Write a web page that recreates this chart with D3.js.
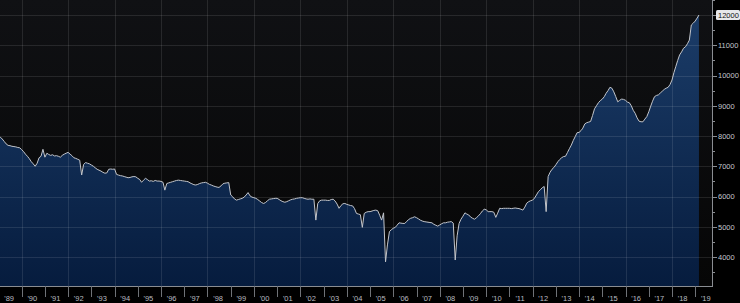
<!doctype html>
<html lang="en">
<head>
<meta charset="utf-8">
<title>Crude production</title>
<style>
  html, body { margin: 0; padding: 0; background: #000; }
  svg { display: block; }
  text { font-family: "Liberation Sans", Arial, sans-serif; }
</style>
</head>
<body>
<svg id="chart" width="740" height="303"></svg>
<script src="https://cdn.jsdelivr.net/npm/d3@7"></script>
<script>

  // monthly values, first month is Jan 1989
  var prod1989_1998 = [
    8000, 7960, 7900, 7820, 7740, 7690, 7680, 7660, 7650, 7640, 7620, 7610,
    7550, 7480, 7400, 7330, 7250, 7150, 7080, 7000, 7100, 7280, 7330, 7560,
    7300, 7430, 7390, 7360, 7380, 7340, 7350, 7330, 7300, 7360, 7400, 7430,
    7460, 7400, 7350, 7280, 7260, 7230, 7200, 6710, 7060, 7120, 7100, 7080,
    7040, 7000, 6950, 6900, 6870, 6840, 6800, 6770, 6780, 6900, 6910, 6900,
    6910, 6730, 6710, 6690, 6680, 6660, 6640, 6620, 6630, 6650, 6660, 6650,
    6600, 6560, 6470, 6540, 6600, 6560, 6510, 6520, 6500, 6530, 6510, 6510,
    6500, 6470, 6210, 6430, 6450, 6470, 6490, 6510, 6530, 6540, 6530, 6520,
    6510, 6500, 6490, 6450, 6420, 6390, 6380, 6400, 6430, 6450, 6460, 6470,
    6440, 6400, 6380, 6350, 6330, 6310, 6300, 6350, 6420, 6440, 6450, 6460
  ];
  var prod1999_2008 = [
    6050, 5990, 5920, 5880, 5900, 5920, 5940, 5980, 6050, 6130, 6020, 5980,
    5960, 5940, 5900, 5850, 5800, 5770, 5800, 5860, 5910, 5920, 5930, 5940,
    5940, 5900, 5860, 5830, 5810, 5830, 5860, 5890, 5910, 5920, 5940, 5950,
    5960, 5960, 5940, 5920, 5910, 5920, 5910, 5910, 5220, 5770, 5860, 5880,
    5880, 5880, 5870, 5870, 5900, 5910, 5850, 5750, 5610, 5700, 5760, 5770,
    5740, 5720, 5700, 5690, 5600, 5440, 5420, 5400, 4980, 5440, 5480, 5500,
    5500, 5520, 5540, 5550, 5530, 5380, 5220, 5460, 3840, 4400, 4840, 4900,
    4950, 4980, 5050, 5130, 5120, 5110, 5110, 5180, 5240, 5280, 5300, 5330,
    5300, 5260, 5220, 5190, 5170, 5160, 5150, 5140, 5130, 5080, 5050, 5020,
    5060, 5100, 5130, 5130, 5150, 5160, 5170, 5120, 3900, 4700, 5110, 5250
  ];
  var prod2009_2019 = [
    5350, 5460, 5420, 5390, 5320, 5280, 5250, 5300, 5360, 5430, 5520, 5580,
    5560, 5500, 5500, 5500, 5480, 5310, 5450, 5610, 5600, 5610, 5610, 5610,
    5610, 5600, 5610, 5620, 5610, 5600, 5580, 5550, 5650, 5780, 5830, 5860,
    5880, 5950, 6050, 6160, 6220, 6290, 6330, 5500, 6660, 6800, 6900, 6960,
    7050, 7150, 7220, 7280, 7320, 7330, 7450, 7580, 7700, 7850, 7980, 8110,
    8120, 8180, 8260, 8400, 8440, 8460, 8480, 8680, 8900, 9000, 9100, 9170,
    9220, 9300, 9410, 9500, 9610, 9580, 9460, 9300, 9130, 9180, 9220, 9210,
    9180, 9120, 9100, 9000, 8850, 8750, 8600, 8490, 8470, 8470, 8560, 8640,
    8800, 8990, 9150, 9300, 9340, 9360, 9420, 9480, 9540, 9580, 9610, 9700,
    9850, 10100, 10290, 10500, 10680, 10780, 10900, 10950, 11050, 11170, 11670, 11730,
    11800, 11900, 12000
  ];

  var yTicks = [4000, 5000, 6000, 7000, 8000, 9000, 10000, 11000, 12000];
  var yearLabels = ["'89", "'90", "'91", "'92", "'93", "'94", "'95", "'96", "'97", "'98",
                    "'99", "'00", "'01", "'02", "'03", "'04", "'05", "'06", "'07", "'08",
                    "'09", "'10", "'11", "'12", "'13", "'14", "'15", "'16", "'17", "'18", "'19"];
  var lastValue = 12000;

  var values = prod1989_1998.concat(prod1999_2008, prod2009_2019);
  var data = values.map(function (v, i) {
      return { date: new Date(1989, i, 1), value: v };
  });

  var plotRight = 712;
  var plotBottom = 286;

  var svg = d3.select("#chart");

  var x = d3.scaleTime()
      .domain([new Date(1990, 0, 1), new Date(2019, 0, 1)])
      .range([21.7, 695.2]);
  var y = d3.scaleLinear()
      .domain([4000, 12000])
      .range([257, 15]);

  var defs = svg.append("defs");
  var bg = defs.append("linearGradient").attr("id", "bg")
      .attr("x1", 0).attr("y1", 0).attr("x2", 0).attr("y2", 1);
  bg.append("stop").attr("offset", "0%").attr("stop-color", "#101114");
  bg.append("stop").attr("offset", "100%").attr("stop-color", "#060606");

  var fill = defs.append("linearGradient").attr("id", "fill")
      .attr("gradientUnits", "userSpaceOnUse")
      .attr("x1", 0).attr("y1", 15).attr("x2", 0).attr("y2", plotBottom);
  fill.append("stop").attr("offset", "0%").attr("stop-color", "#1b3c68");
  fill.append("stop").attr("offset", "100%").attr("stop-color", "#061c3e");

  svg.append("rect")
      .attr("x", 0).attr("y", 0)
      .attr("width", plotRight).attr("height", plotBottom)
      .attr("fill", "url(#bg)");

  // area + line
  var area = d3.area()
      .x(function (d) { return x(d.date); })
      .y0(plotBottom)
      .y1(function (d) { return y(d.value); });
  var line = d3.line()
      .x(function (d) { return x(d.date); })
      .y(function (d) { return y(d.value); });

  svg.append("path")
      .datum(data)
      .attr("d", area)
      .attr("fill", "url(#fill)");

  // grid on top of the area, faint
  var grid = svg.append("g").attr("class", "grid");
  grid.selectAll("line.h")
      .data(yTicks)
      .enter().append("line")
      .attr("x1", 0).attr("x2", plotRight)
      .attr("y1", function (d) { return Math.round(y(d)) + 0.5; })
      .attr("y2", function (d) { return Math.round(y(d)) + 0.5; })
      .attr("stroke", "#ffffff").attr("stroke-opacity", 0.1);
  var gridYears = d3.range(1990, 2019, 2);
  grid.selectAll("line.v")
      .data(gridYears)
      .enter().append("line")
      .attr("y1", 0).attr("y2", plotBottom)
      .attr("x1", function (d) { return Math.round(x(new Date(d, 0, 1))) + 0.5; })
      .attr("x2", function (d) { return Math.round(x(new Date(d, 0, 1))) + 0.5; })
      .attr("stroke", "#ffffff").attr("stroke-opacity", 0.1);

  svg.append("path")
      .datum(data)
      .attr("d", line)
      .attr("fill", "none")
      .attr("stroke", "#c2c5cb")
      .attr("stroke-width", 1)
      .attr("stroke-linejoin", "round");

  // bottom axis: year separators with labels centred in each year
  svg.append("line")
      .attr("x1", 0).attr("x2", plotRight)
      .attr("y1", plotBottom + 0.5).attr("y2", plotBottom + 0.5)
      .attr("stroke", "#8a8d92");
  var sepYears = d3.range(1990, 2020);
  svg.selectAll("line.sep")
      .data(sepYears)
      .enter().append("line")
      .attr("x1", function (d) { return Math.round(x(new Date(d, 0, 1))) + 0.5; })
      .attr("x2", function (d) { return Math.round(x(new Date(d, 0, 1))) + 0.5; })
      .attr("y1", plotBottom).attr("y2", 297)
      .attr("stroke", "#6f7277");
  svg.selectAll("text.year")
      .data(yearLabels)
      .enter().append("text")
      .attr("x", function (d, i) {
          return (x(new Date(1989 + i, 0, 1)) + x(new Date(1990 + i, 0, 1))) / 2 - 1;
      })
      .attr("y", 301)
      .attr("text-anchor", "middle")
      .attr("font-size", "7.5px")
      .attr("fill", "#b9bcc1")
      .text(function (d) { return d; });

  // right axis
  svg.append("line")
      .attr("x1", plotRight + 0.5).attr("x2", plotRight + 0.5)
      .attr("y1", 0).attr("y2", plotBottom + 1)
      .attr("stroke", "#8a8d92");
  var minor = d3.range(3500, 12600, 500);
  svg.selectAll("line.tick")
      .data(minor)
      .enter().append("line")
      .attr("x1", plotRight)
      .attr("x2", function (d) { return d % 1000 == 0 ? plotRight + 5 : plotRight + 3; })
      .attr("y1", function (d) { return Math.round(y(d)) + 0.5; })
      .attr("y2", function (d) { return Math.round(y(d)) + 0.5; })
      .attr("stroke", "#8a8d92");
  svg.selectAll("text.ylab")
      .data(yTicks.filter(function (d) { return d != lastValue; }))
      .enter().append("text")
      .attr("x", plotRight + 6)
      .attr("y", function (d) { return y(d) + 2.8; })
      .attr("font-size", "7.5px")
      .attr("fill", "#c4c7cc")
      .text(function (d) { return d; });

  // last value tag
  svg.append("rect")
      .attr("x", plotRight + 4).attr("y", y(lastValue) - 5)
      .attr("width", 24).attr("height", 10)
      .attr("rx", 1.5)
      .attr("fill", "#e6e7ea");
  svg.append("text")
      .attr("x", plotRight + 6).attr("y", y(lastValue) + 2.8)
      .attr("font-size", "7.5px")
      .attr("fill", "#111")
      .text(lastValue);

</script>
</body>
</html>
